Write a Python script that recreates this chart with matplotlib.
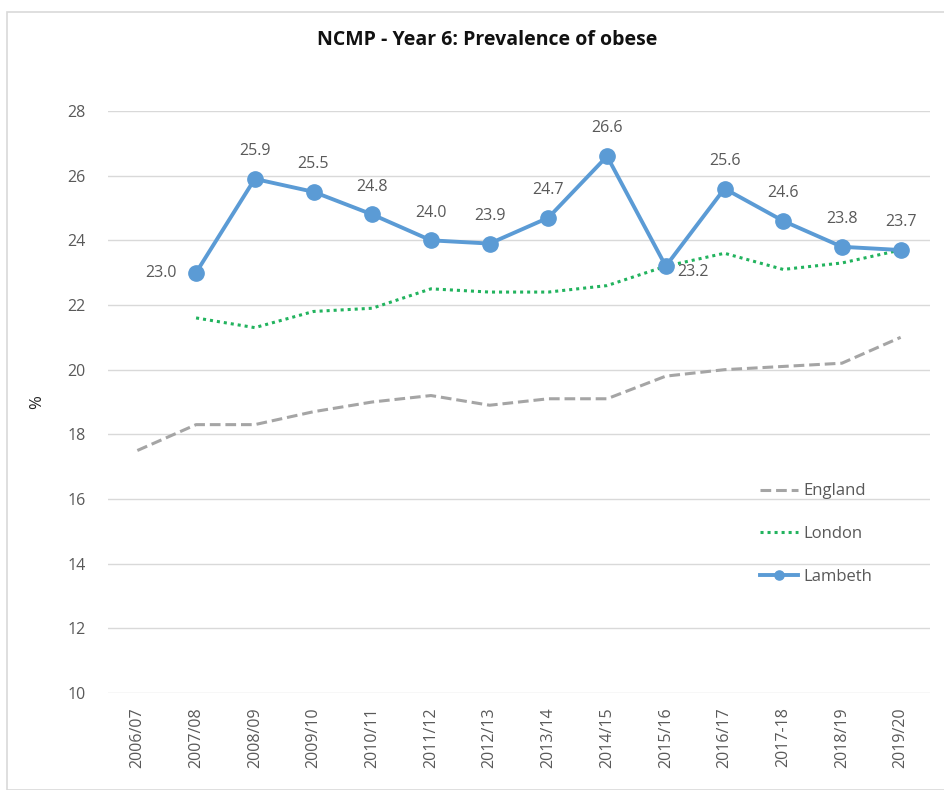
import matplotlib.pyplot as plt
from matplotlib.patches import Rectangle

years = ["2006/07", "2007/08", "2008/09", "2009/10", "2010/11", "2011/12", "2012/13",
         "2013/14", "2014/15", "2015/16", "2016/17", "2017-18", "2018/19", "2019/20"]
england = [17.5, 18.3, 18.3, 18.7, 19.0, 19.2, 18.9, 19.1, 19.1, 19.8, 20.0, 20.1, 20.2, 21.0]
london = [None, 21.6, 21.3, 21.8, 21.9, 22.5, 22.4, 22.4, 22.6, 23.2, 23.6, 23.1, 23.3, 23.7]
lambeth = [None, 23.0, 25.9, 25.5, 24.8, 24.0, 23.9, 24.7, 26.6, 23.2, 25.6, 24.6, 23.8, 23.7]

plt.rcParams['font.family'] = ['Open Sans', 'DejaVu Sans']
grey = '#595959'

fig = plt.figure(figsize=(9.44, 7.90), dpi=100)
fig.patches.append(Rectangle((7 / 944, 0), 1, 1 - 12 / 790, transform=fig.transFigure,
                             fill=False, edgecolor='#d9d9d9', linewidth=1.2))
ax = fig.add_axes([108 / 944, 1 - 693 / 790, 822 / 944, (693 - 111) / 790])

x = list(range(len(years)))
lx = [i for i, v in zip(x, london) if v is not None]
lv = [v for v in london if v is not None]
bx = [i for i, v in zip(x, lambeth) if v is not None]
bv = [v for v in lambeth if v is not None]

ax.plot(x, england, color='#a5a5a5', linestyle=(0, (3.5, 1.6)), linewidth=2.2, label='England')
ax.plot(lx, lv, color='#22b35e', linestyle=(0, (1, 1.3)), linewidth=2.2, label='London')
ax.plot(bx, bv, color='#5b9bd5', linewidth=2.8, marker='o', markersize=11, label='Lambeth')

for i, v in zip(bx, bv):
    if years[i] == "2007/08":
        ax.annotate(f"{v:.1f}", (i, v), xytext=(-14, 0), textcoords='offset points',
                    ha='right', va='center', fontsize=11.5, color=grey)
    elif years[i] == "2015/16":
        ax.annotate(f"{v:.1f}", (i, v), xytext=(8, -4), textcoords='offset points',
                    ha='left', va='center', fontsize=11.5, color=grey)
    else:
        ax.annotate(f"{v:.1f}", (i, v), xytext=(0, 20), textcoords='offset points',
                    ha='center', va='center', fontsize=11.5, color=grey)

ax.set_xlim(-0.5, len(years) - 0.5)
ax.set_ylim(10, 28)
ax.set_yticks(range(10, 29, 2))
ax.set_xticks(x)
ax.set_xticklabels(years, rotation=90)
ax.tick_params(axis='both', length=0, colors=grey, labelsize=11.5)
ax.tick_params(axis='y', pad=16)
ax.tick_params(axis='x', pad=10)
ax.grid(axis='y', color='#d9d9d9', linewidth=1)
ax.set_axisbelow(True)
for s in ax.spines.values():
    s.set_visible(False)

fig.text(37 / 944, 1 - 402 / 790, '%', rotation=90, ha='center', va='center', fontsize=12, color='#222222')
fig.text(487 / 944, 1 - 40 / 790, 'NCMP - Year 6: Prevalence of obese', ha='center', va='center',
         fontsize=14, fontweight='bold', color='#111111')

leg = ax.legend(loc='center left', frameon=False, fontsize=12, handlelength=2.3,
                labelspacing=1.6, handletextpad=0.3, markerscale=0.6,
                bbox_to_anchor=(745 / 944, 1 - 534 / 790), bbox_transform=fig.transFigure)
for t in leg.get_texts():
    t.set_color(grey)

fig.savefig('out.png', dpi=100)
